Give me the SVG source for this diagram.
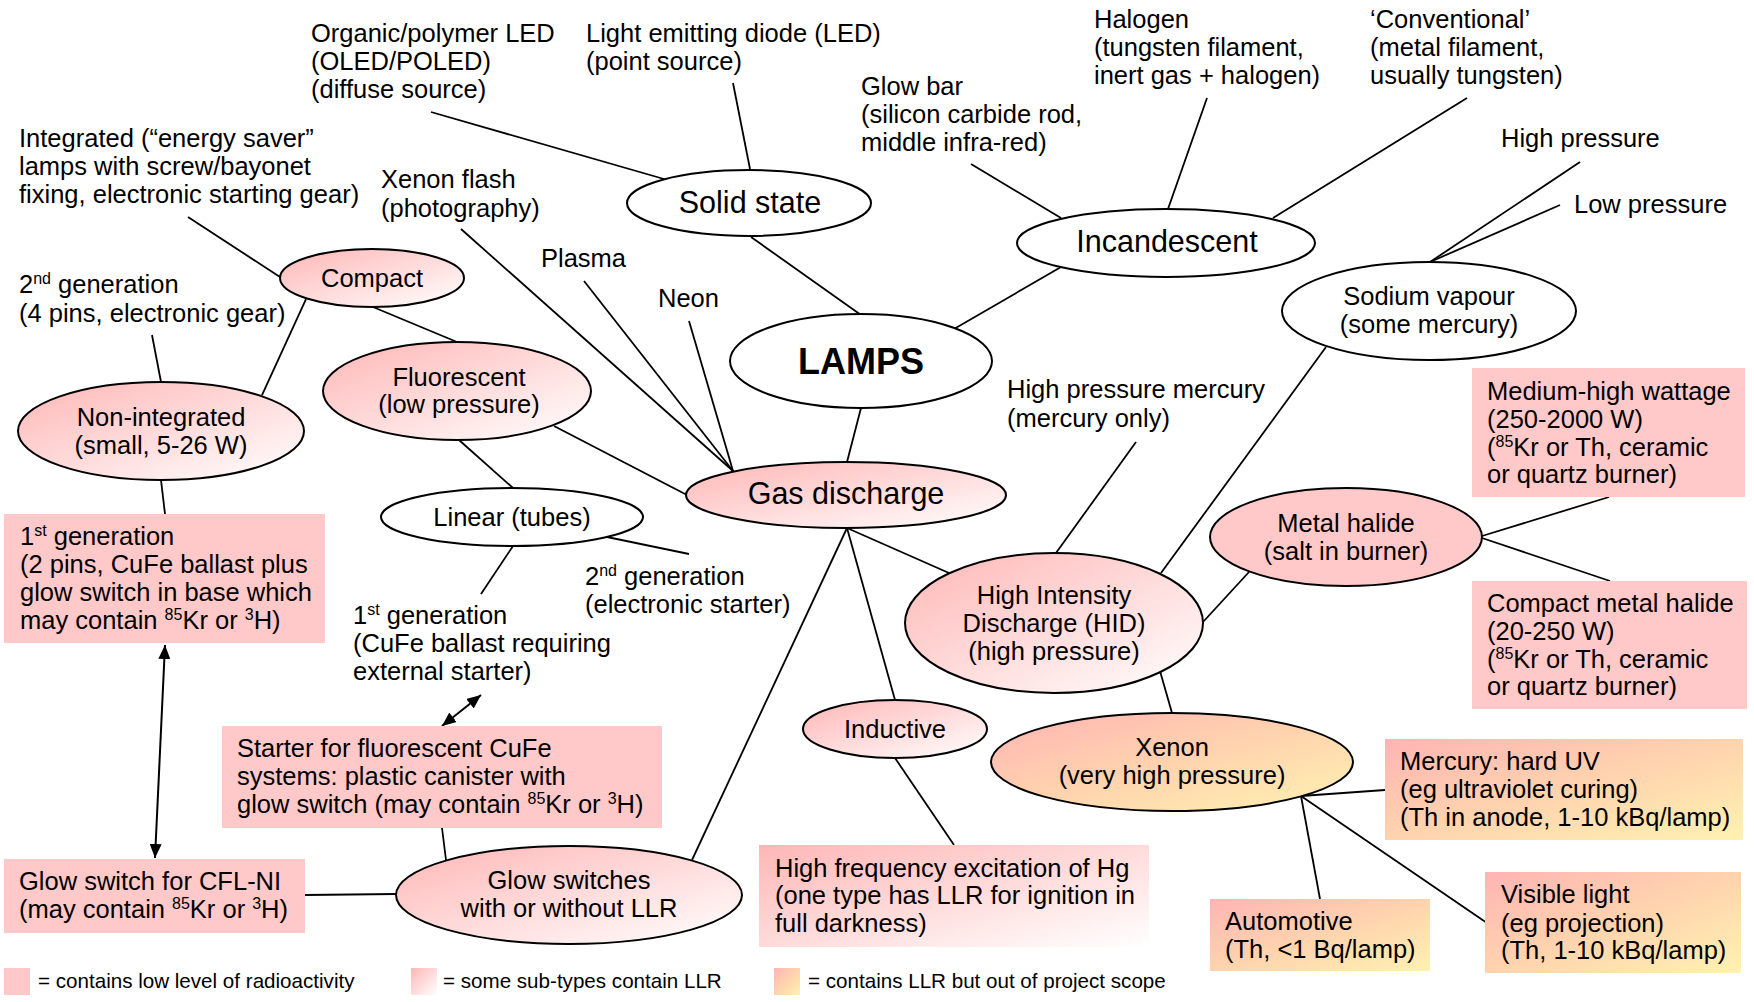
<svg xmlns="http://www.w3.org/2000/svg" width="1754" height="1002" viewBox="0 0 1754 1002">
<defs>
<linearGradient id="gp" x1="0" y1="0" x2="1" y2="1"><stop offset="0" stop-color="#FFB6B6"/><stop offset="1" stop-color="#FFFFFF"/></linearGradient>
<linearGradient id="go" x1="0" y1="0" x2="1" y2="1"><stop offset="0" stop-color="#FFB4B4"/><stop offset="0.5" stop-color="#FFD3AE"/><stop offset="1" stop-color="#FFF2B2"/></linearGradient>
<marker id="ah" viewBox="0 0 14 12" refX="14" refY="6" markerWidth="14" markerHeight="12" markerUnits="userSpaceOnUse" orient="auto-start-reverse"><path d="M0,0 L14,6 L0,12 z" fill="#000"/></marker>
</defs>
<style>
text{font-family:"Liberation Sans",Arial,Helvetica,sans-serif;fill:#000;font-size:25.5px}
.big{font-size:30.5px}
.lamps{font-size:36px;font-weight:bold}
.leg{font-size:20.6px}
.sup{font-size:16px}
.m{text-anchor:middle}
ellipse{stroke:#000;stroke-width:2}
.w{fill:#fff}
.p{fill:url(#gp)}
.o{fill:url(#go)}
.s{fill:#FFC9C9}
#connectors line{stroke:#000;stroke-width:1.8}
#connectors line.arr{stroke-width:2;marker-start:url(#ah);marker-end:url(#ah)}
</style>
<rect width="1754" height="1002" fill="#fff"/>
<g id="connectors">
<line x1="431" y1="112" x2="664" y2="179"/>
<line x1="733" y1="83" x2="750" y2="169"/>
<line x1="751" y1="237" x2="861" y2="315"/>
<line x1="971" y1="164" x2="1061" y2="218"/>
<line x1="1207" y1="98" x2="1168" y2="209"/>
<line x1="1467" y1="98" x2="1273" y2="218"/>
<line x1="954" y1="329" x2="1061" y2="267"/>
<line x1="1580" y1="162" x2="1430" y2="262"/>
<line x1="1560" y1="205" x2="1430" y2="262"/>
<line x1="188" y1="217" x2="280" y2="277"/>
<line x1="461" y1="229" x2="733" y2="471"/>
<line x1="584" y1="281" x2="733" y2="471"/>
<line x1="689" y1="321" x2="733" y2="471"/>
<line x1="373" y1="307" x2="457" y2="342"/>
<line x1="306" y1="299" x2="262" y2="395"/>
<line x1="152" y1="335" x2="161" y2="382"/>
<line x1="161" y1="480" x2="165" y2="514"/>
<line x1="459" y1="440" x2="513" y2="488"/>
<line x1="554" y1="426" x2="687" y2="495"/>
<line x1="607" y1="537" x2="689" y2="554"/>
<line x1="513" y1="546" x2="481" y2="594"/>
<line x1="861" y1="408" x2="847" y2="462"/>
<line x1="847" y1="528" x2="949" y2="573"/>
<line x1="847" y1="528" x2="895" y2="700"/>
<line x1="847" y1="528" x2="692" y2="860"/>
<line x1="1136" y1="442" x2="1056" y2="553"/>
<line x1="1326" y1="347" x2="1161" y2="573"/>
<line x1="1203" y1="622" x2="1249" y2="572"/>
<line x1="1160" y1="671" x2="1172" y2="713"/>
<line x1="1482" y1="536" x2="1609" y2="497"/>
<line x1="1482" y1="538" x2="1610" y2="581"/>
<line x1="1301" y1="796" x2="1385" y2="790"/>
<line x1="1301" y1="796" x2="1320" y2="899"/>
<line x1="1301" y1="796" x2="1487" y2="923"/>
<line x1="895" y1="758" x2="954" y2="845"/>
<line x1="442" y1="828" x2="446" y2="860"/>
<line x1="305" y1="895" x2="396" y2="894"/>
<line class="arr" x1="165" y1="645" x2="155" y2="858"/>
<line class="arr" x1="481" y1="695" x2="442" y2="726"/>
</g>
<g id="lbl-oled"><text x="311" y="42">Organic/polymer LED</text><text x="311" y="70">(OLED/POLED)</text><text x="311" y="98">(diffuse source)</text></g>
<g id="lbl-led"><text x="586" y="42">Light emitting diode (LED)</text><text x="586" y="70">(point source)</text></g>
<g id="lbl-halogen"><text x="1094" y="28">Halogen</text><text x="1094" y="56">(tungsten filament,</text><text x="1094" y="84">inert gas + halogen)</text></g>
<g id="lbl-conventional"><text x="1370" y="28">‘Conventional’</text><text x="1370" y="56">(metal filament,</text><text x="1370" y="84">usually tungsten)</text></g>
<g id="lbl-glowbar"><text x="861" y="95">Glow bar</text><text x="861" y="123">(silicon carbide rod,</text><text x="861" y="151">middle infra-red)</text></g>
<g id="lbl-highp"><text x="1501" y="147">High pressure</text></g>
<g id="lbl-lowp"><text x="1574" y="213">Low pressure</text></g>
<g id="lbl-integrated"><text x="19" y="147">Integrated (“energy saver”</text><text x="19" y="175">lamps with screw/bayonet</text><text x="19" y="203">fixing, electronic starting gear)</text></g>
<g id="lbl-xenonflash"><text x="381" y="188">Xenon flash</text><text x="381" y="217">(photography)</text></g>
<g id="lbl-plasma"><text x="541" y="267">Plasma</text></g>
<g id="lbl-neon"><text x="658" y="307">Neon</text></g>
<g id="lbl-2ndgen-ni"><text x="19" y="293">2<tspan class="sup" dy="-9">nd</tspan><tspan dy="9"> generation</tspan></text><text x="19" y="322">(4 pins, electronic gear)</text></g>
<g id="lbl-hpmercury"><text x="1007" y="398">High pressure mercury</text><text x="1007" y="427">(mercury only)</text></g>
<g id="lbl-2ndgen-lin"><text x="585" y="585">2<tspan class="sup" dy="-9">nd</tspan><tspan dy="9"> generation</tspan></text><text x="585" y="613">(electronic starter)</text></g>
<g id="lbl-1stgen-lin"><text x="353" y="624">1<tspan class="sup" dy="-9">st</tspan><tspan dy="9"> generation</tspan></text><text x="353" y="652">(CuFe ballast requiring</text><text x="353" y="680">external starter)</text></g>

<g id="solid-state"><ellipse class="w" cx="749" cy="203" rx="122" ry="33"/><text class="big m" x="750" y="213">Solid state</text></g>
<g id="incandescent"><ellipse class="w" cx="1166" cy="243" rx="149" ry="34"/><text class="big m" x="1167" y="252">Incandescent</text></g>
<g id="sodium"><ellipse class="w" cx="1429" cy="311" rx="147" ry="49"/><text class="m" x="1429" y="305">Sodium vapour</text><text class="m" x="1429" y="333">(some mercury)</text></g>
<g id="lamps"><ellipse class="w" cx="861" cy="361" rx="131" ry="47"/><text class="lamps m" x="861" y="374">LAMPS</text></g>
<g id="compact"><ellipse class="p" cx="372" cy="278" rx="92" ry="29"/><text class="m" x="372" y="287">Compact</text></g>
<g id="non-integrated"><ellipse class="p" cx="161" cy="431" rx="143" ry="49"/><text class="m" x="161" y="426">Non-integrated</text><text class="m" x="161" y="454">(small, 5-26 W)</text></g>
<g id="fluorescent"><ellipse class="p" cx="457" cy="391" rx="134" ry="49"/><text class="m" x="459" y="386">Fluorescent</text><text class="m" x="459" y="413">(low pressure)</text></g>
<g id="linear"><ellipse class="w" cx="512" cy="517" rx="131" ry="29"/><text class="m" x="512" y="526">Linear (tubes)</text></g>
<g id="gas-discharge"><ellipse class="p" cx="846" cy="495" rx="160" ry="33"/><text class="big m" x="846" y="504">Gas discharge</text></g>
<g id="hid"><ellipse class="p" cx="1054" cy="623" rx="149" ry="70"/><text class="m" x="1054" y="604">High Intensity</text><text class="m" x="1054" y="632">Discharge (HID)</text><text class="m" x="1054" y="660">(high pressure)</text></g>
<g id="metal-halide"><ellipse class="s" cx="1346" cy="537" rx="136" ry="49"/><text class="m" x="1346" y="532">Metal halide</text><text class="m" x="1346" y="560">(salt in burner)</text></g>
<g id="inductive"><ellipse class="p" cx="895" cy="729" rx="92" ry="29"/><text class="m" x="895" y="738">Inductive</text></g>
<g id="xenon"><ellipse class="o" cx="1172" cy="762" rx="181" ry="49"/><text class="m" x="1172" y="756">Xenon</text><text class="m" x="1172" y="784">(very high pressure)</text></g>
<g id="glow-switches"><ellipse class="p" cx="569" cy="895" rx="173" ry="49"/><text class="m" x="569" y="889">Glow switches</text><text class="m" x="569" y="917">with or without LLR</text></g>

<g id="box-1stgen-ni"><rect class="s" x="4" y="514" width="321" height="129"/><text x="20" y="545">1<tspan class="sup" dy="-9">st</tspan><tspan dy="9"> generation</tspan></text><text x="20" y="573">(2 pins, CuFe ballast plus</text><text x="20" y="601">glow switch in base which</text><text x="20" y="629">may contain <tspan class="sup" dy="-9">85</tspan><tspan dy="9">Kr or </tspan><tspan class="sup" dy="-9">3</tspan><tspan dy="9">H)</tspan></text></g>
<g id="box-starter"><rect class="s" x="222" y="726" width="440" height="102"/><text x="237" y="757">Starter for fluorescent CuFe</text><text x="237" y="785">systems: plastic canister with</text><text x="237" y="813">glow switch (may contain <tspan class="sup" dy="-9">85</tspan><tspan dy="9">Kr or </tspan><tspan class="sup" dy="-9">3</tspan><tspan dy="9">H)</tspan></text></g>
<g id="box-cflni"><rect class="s" x="4" y="859" width="301" height="74"/><text x="19" y="890">Glow switch for CFL-NI</text><text x="19" y="918">(may contain <tspan class="sup" dy="-9">85</tspan><tspan dy="9">Kr or </tspan><tspan class="sup" dy="-9">3</tspan><tspan dy="9">H)</tspan></text></g>
<g id="box-hf"><rect class="p" x="759" y="845" width="390" height="102"/><text x="775" y="877">High frequency excitation of Hg</text><text x="775" y="904">(one type has LLR for ignition in</text><text x="775" y="932">full darkness)</text></g>
<g id="box-medhigh"><rect class="s" x="1472" y="368" width="273" height="129"/><text x="1487" y="400">Medium-high wattage</text><text x="1487" y="428">(250-2000 W)</text><text x="1487" y="456">(<tspan class="sup" dy="-9">85</tspan><tspan dy="9">Kr or Th, ceramic</tspan></text><text x="1487" y="483">or quartz burner)</text></g>
<g id="box-compactmh"><rect class="s" x="1472" y="581" width="275" height="128"/><text x="1487" y="612">Compact metal halide</text><text x="1487" y="640">(20-250 W)</text><text x="1487" y="668">(<tspan class="sup" dy="-9">85</tspan><tspan dy="9">Kr or Th, ceramic</tspan></text><text x="1487" y="695">or quartz burner)</text></g>
<g id="box-mercuryuv"><rect class="o" x="1385" y="739" width="358" height="101"/><text x="1400" y="770">Mercury: hard UV</text><text x="1400" y="798">(eg ultraviolet curing)</text><text x="1400" y="826">(Th in anode, 1-10 kBq/lamp)</text></g>
<g id="box-automotive"><rect class="o" x="1210" y="899" width="220" height="72"/><text x="1225" y="930">Automotive</text><text x="1225" y="958">(Th, &lt;1 Bq/lamp)</text></g>
<g id="box-visible"><rect class="o" x="1485" y="872" width="256" height="101"/><text x="1501" y="903">Visible light</text><text x="1501" y="932">(eg projection)</text><text x="1501" y="959">(Th, 1-10 kBq/lamp)</text></g>

<g id="legend">
<rect class="s" x="4" y="968" width="26" height="27"/><text class="leg" x="38" y="988">= contains low level of radioactivity</text>
<rect class="p" x="411" y="968" width="26" height="27"/><text class="leg" x="443" y="988">= some sub-types contain LLR</text>
<rect class="o" x="774" y="968" width="26" height="27"/><text class="leg" x="808" y="988">= contains LLR but out of project scope</text>
</g>
</svg>
